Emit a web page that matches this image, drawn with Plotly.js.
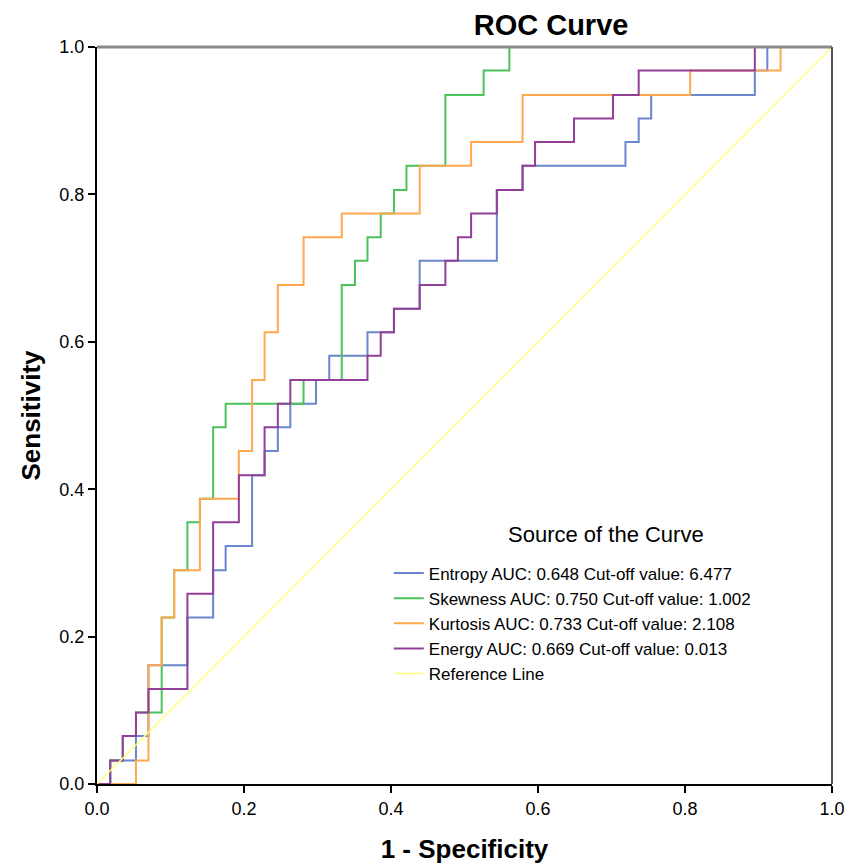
<!DOCTYPE html>
<html>
<head>
<meta charset="utf-8">
<script src="https://cdn.plot.ly/plotly-3.0.1.min.js"></script>
<style>html,body{margin:0;padding:0;background:#fff;}#chart{width:861px;height:864px;}</style>
</head>
<body>
<div id="chart"></div>
<script>
// ROC step-curve corner points (1 - Specificity, Sensitivity), drawn with 'hv' steps
const entropyX = [0, 0.018, 0.053, 0.070, 0.123, 0.158, 0.175, 0.211, 0.228, 0.246, 0.263, 0.298, 0.316, 0.368, 0.404, 0.439, 0.544, 0.579, 0.719, 0.737, 0.754, 0.895, 0.912, 1.0];
const entropyY = [0, 0.032, 0.065, 0.161, 0.226, 0.290, 0.323, 0.419, 0.452, 0.484, 0.516, 0.548, 0.581, 0.613, 0.645, 0.710, 0.806, 0.839, 0.871, 0.903, 0.935, 0.968, 1.0, 1.0];

const skewX = [0, 0.018, 0.035, 0.053, 0.088, 0.105, 0.123, 0.140, 0.158, 0.175, 0.281, 0.333, 0.351, 0.368, 0.386, 0.404, 0.421, 0.474, 0.526, 0.561, 1.0];
const skewY = [0, 0.032, 0.065, 0.097, 0.226, 0.290, 0.355, 0.387, 0.484, 0.516, 0.548, 0.677, 0.710, 0.742, 0.774, 0.806, 0.839, 0.935, 0.968, 1.0, 1.0];

const kurtX = [0, 0.053, 0.070, 0.088, 0.105, 0.140, 0.193, 0.211, 0.228, 0.246, 0.281, 0.333, 0.439, 0.509, 0.579, 0.807, 0.930, 1.0];
const kurtY = [0, 0.032, 0.161, 0.226, 0.290, 0.387, 0.452, 0.548, 0.613, 0.677, 0.742, 0.774, 0.839, 0.871, 0.935, 0.968, 1.0, 1.0];

const energyX = [0, 0.018, 0.035, 0.053, 0.070, 0.123, 0.158, 0.193, 0.228, 0.246, 0.263, 0.368, 0.386, 0.404, 0.439, 0.474, 0.491, 0.509, 0.544, 0.579, 0.596, 0.649, 0.702, 0.737, 0.895, 1.0];
const energyY = [0, 0.032, 0.065, 0.097, 0.129, 0.258, 0.355, 0.419, 0.484, 0.516, 0.548, 0.581, 0.613, 0.645, 0.677, 0.710, 0.742, 0.774, 0.806, 0.839, 0.871, 0.903, 0.935, 0.968, 1.0, 1.0];

const refX = [0, 1];
const refY = [0, 1];

const seriesNames = [
  "Entropy AUC: 0.648 Cut-off value: 6.477",
  "Skewness AUC: 0.750 Cut-off value: 1.002",
  "Kurtosis AUC: 0.733 Cut-off value: 2.108",
  "Energy AUC: 0.669 Cut-off value: 0.013",
  "Reference Line"
];
const legendTitle = "Source of the Curve";
const tickVals = [0, 0.2, 0.4, 0.6, 0.8, 1.0];
const tickText = ["0.0", "0.2", "0.4", "0.6", "0.8", "1.0"];

const colors = ["#6a86cc", "#4cc25a", "#ffa94d", "#923f98", "#ffff80"];

const traces = [
  {x: entropyX, y: entropyY, name: seriesNames[0], mode: "lines", line: {color: colors[0], width: 2, shape: "hv"}},
  {x: skewX, y: skewY, name: seriesNames[1], mode: "lines", line: {color: colors[1], width: 2, shape: "hv"}},
  {x: kurtX, y: kurtY, name: seriesNames[2], mode: "lines", line: {color: colors[2], width: 2, shape: "hv"}},
  {x: energyX, y: energyY, name: seriesNames[3], mode: "lines", line: {color: colors[3], width: 2, shape: "hv"}},
  {x: refX, y: refY, name: seriesNames[4], mode: "lines", line: {color: colors[4], width: 1.5}}
];

const font = "Liberation Sans, Arial, sans-serif";

const layout = {
  width: 861, height: 864,
  margin: {l: 97, r: 29, t: 47, b: 80},
  paper_bgcolor: "#ffffff", plot_bgcolor: "#ffffff",
  font: {family: font, size: 18, color: "#000"},
  title: {text: "<b>ROC Curve</b>", font: {family: font, size: 29, color: "#000"}, x: 0.64, xanchor: "center", y: 0.971, yanchor: "middle"},
  xaxis: {
    range: [0, 1], tickvals: tickVals, ticktext: tickText,
    showgrid: false, zeroline: false, showline: true, linecolor: "#000", linewidth: 2,
    ticks: "outside", ticklen: 7, tickwidth: 2, tickcolor: "#000",
    tickfont: {family: font, size: 18, color: "#000"},
    title: {text: "<b>1 - Specificity</b>", font: {family: font, size: 26, color: "#000"}, standoff: 23},
    fixedrange: true
  },
  yaxis: {
    range: [0, 1], tickvals: tickVals, ticktext: tickText,
    showgrid: false, zeroline: false, showline: true, linecolor: "#000", linewidth: 2,
    ticks: "outside", ticklen: 7, tickwidth: 2, tickcolor: "#000",
    tickfont: {family: font, size: 18, color: "#000"},
    title: {text: "<b>Sensitivity</b>", font: {family: font, size: 26, color: "#000"}, standoff: 11},
    fixedrange: true
  },
  shapes: [
    {type: "line", xref: "paper", yref: "paper", x0: 0, x1: 1, y0: 1, y1: 1, line: {color: "#8a8a8a", width: 3}},
    {type: "line", xref: "paper", yref: "paper", x0: 1, x1: 1, y0: 0, y1: 1, line: {color: "#555555", width: 2}}
  ],
  annotations: [
    {text: legendTitle, xref: "paper", yref: "paper", x: 0.692, y: 0.338, xanchor: "center", yanchor: "middle",
     showarrow: false, font: {family: font, size: 22, color: "#000"}}
  ],
  showlegend: true,
  legend: {
    x: 0.397, y: 0.310, xanchor: "left", yanchor: "top",
    bgcolor: "rgba(0,0,0,0)", borderwidth: 0,
    font: {family: font, size: 17, color: "#000"},
    tracegroupgap: 0, itemwidth: 30
  }
};

Plotly.newPlot("chart", traces, layout, {displayModeBar: false, staticPlot: true});
</script>
</body>
</html>
